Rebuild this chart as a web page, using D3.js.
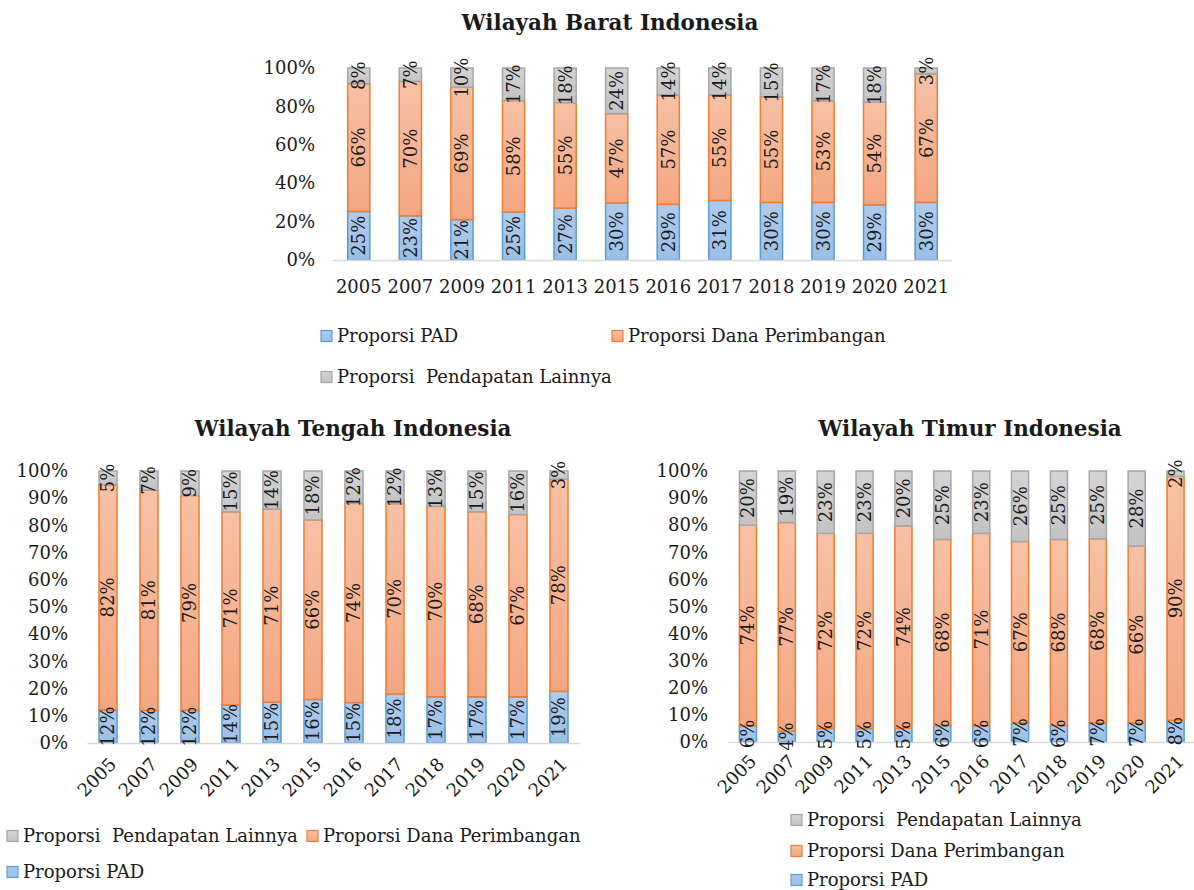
<!DOCTYPE html>
<html><head><meta charset="utf-8">
<script src="https://cdn.jsdelivr.net/npm/d3@7"></script>
<style>
body{margin:0;background:#fff}
svg{display:block;font-family:"DejaVu Serif",serif}
</style>
</head><body>
<svg id="chart" width="1194" height="890"></svg>
<script>
// ---------- DATA ----------
const years = ["2005","2007","2009","2011","2013","2015","2016","2017","2018","2019","2020","2021"];
const seriesKeys = ["pad","dana","lain"];
const seriesLabels = {pad:"Proporsi PAD", dana:"Proporsi Dana Perimbangan", lain:"Proporsi  Pendapatan Lainnya"};

const baratPAD  = [25,23,21,25,27,30,29,31,30,30,29,30];
const baratDana = [66,70,69,58,55,47,57,55,55,53,54,67];
const baratLain = [8,7,10,17,18,24,14,14,15,17,18,3];

const tengahPAD  = [12,12,12,14,15,16,15,18,17,17,17,19];
const tengahDana = [82,81,79,71,71,66,74,70,70,68,67,78];
const tengahLain = [5,7,9,15,14,18,12,12,13,15,16,3];

const timurPAD  = [6,4,5,5,5,6,6,7,6,7,7,8];
const timurDana = [74,77,72,72,74,68,71,67,68,68,66,90];
const timurLain = [20,19,23,23,20,25,23,26,25,25,28,2];

const ticksTop = [0,0.2,0.4,0.6,0.8,1];
const ticksBottom = [0,0.1,0.2,0.3,0.4,0.5,0.6,0.7,0.8,0.9,1];

// ---------- STYLE ----------
const colors = {
  pad:  {top:"#adcbec", bot:"#9bbfe6", stroke:"#5b9bd5"},
  dana: {top:"#f7c1a5", bot:"#f4a682", stroke:"#ed7d31"},
  lain: {top:"#d4d4d4", bot:"#c3c3c3", stroke:"#a5a5a5"}
};
const textColor = "#1a1a1a";

const svg = d3.select("#chart");
const defs = svg.append("defs");
seriesKeys.forEach(k => {
  const gr = defs.append("linearGradient").attr("id","grad-"+k)
    .attr("x1",0).attr("y1",0).attr("x2",0).attr("y2",1);
  gr.append("stop").attr("offset","0%").attr("stop-color",colors[k].top);
  gr.append("stop").attr("offset","100%").attr("stop-color",colors[k].bot);
});

function drawPanel(cfg){
  const g = svg.append("g");
  const rows = years.map((y,i)=>({year:y, pad:cfg.pad[i], dana:cfg.dana[i], lain:cfg.lain[i]}));
  const stacked = d3.stack().keys(seriesKeys).offset(d3.stackOffsetExpand)(rows);

  const x = d3.scaleBand().domain(years).range([cfg.x0, cfg.x1]).paddingInner(cfg.pad_).paddingOuter(cfg.pad_/2);
  const y = d3.scaleLinear().domain([0,1]).range([cfg.yBot, cfg.yTop]);

  // title
  g.append("text").attr("x",cfg.titleX).attr("y",cfg.titleY)
    .attr("text-anchor","middle").attr("font-weight","bold").attr("font-size",cfg.titleSize)
    .attr("fill",textColor).text(cfg.title);

  // y axis labels
  const yAxis = d3.axisLeft(y).tickValues(cfg.ticks).tickFormat(d3.format(".0%")).tickSize(0).tickPadding(0);
  const ya = g.append("g").attr("transform",`translate(${cfg.yLabelX},0)`).call(yAxis);
  ya.select(".domain").remove();
  ya.selectAll("text").attr("font-size",cfg.fontSize).attr("fill",textColor).attr("font-family","DejaVu Serif");

  // bars
  stacked.forEach(s => {
    const key = s.key;
    g.append("g").selectAll("rect").data(s).join("rect")
      .attr("x", d => x(d.data.year))
      .attr("width", x.bandwidth())
      .attr("y", d => y(d[1]))
      .attr("height", d => y(d[0]) - y(d[1]))
      .attr("fill", `url(#grad-${key})`)
      .attr("stroke", colors[key].stroke)
      .attr("stroke-width", 1.5);
  });

  // baseline
  g.append("line").attr("x1",cfg.x0).attr("x2",cfg.x1).attr("y1",cfg.yBot+0.5).attr("y2",cfg.yBot+0.5)
    .attr("stroke","#d9d9d9").attr("stroke-width",1.5);

  // data labels
  stacked.forEach(s => {
    const key = s.key;
    g.append("g").selectAll("text").data(s).join("text")
      .attr("transform", d => `translate(${x(d.data.year)+x.bandwidth()/2},${(y(d[0])+y(d[1]))/2}) rotate(-90)`)
      .attr("text-anchor","middle").attr("dy","0.36em")
      .attr("font-size",cfg.fontSize).attr("fill",textColor)
      .text(d => d.data[key] + "%");
  });

  // x axis labels
  const xg = g.append("g");
  if (cfg.rotate){
    xg.selectAll("text").data(years).join("text")
      .attr("transform", d => `translate(${x(d)+x.bandwidth()/2+cfg.rotDx},${cfg.yBot+cfg.rotDy}) rotate(-45)`)
      .attr("text-anchor","end").attr("dy","0.35em")
      .attr("font-size",cfg.fontSize).attr("fill",textColor)
      .text(d => d);
  } else {
    xg.selectAll("text").data(years).join("text")
      .attr("x", d => x(d)+x.bandwidth()/2).attr("y", cfg.yBot+cfg.xLabelDy)
      .attr("text-anchor","middle")
      .attr("font-size",cfg.fontSize).attr("fill",textColor)
      .text(d => d);
  }

  // legend
  const lg = g.append("g");
  cfg.legend.forEach(item => {
    lg.append("rect").attr("x",item.x).attr("y",item.y-5.5).attr("width",11).attr("height",11)
      .attr("fill",`url(#grad-${item.key})`).attr("stroke",colors[item.key].stroke).attr("stroke-width",1.2);
    lg.append("text").attr("x",item.x+16).attr("y",item.y).attr("dy","0.35em")
      .attr("font-size",cfg.fontSize).attr("fill",textColor).style("white-space","pre")
      .text(seriesLabels[item.key]);
  });
}

drawPanel({
  title:"Wilayah Barat Indonesia", titleX:610, titleY:30, titleSize:21.5,
  pad:baratPAD, dana:baratDana, lain:baratLain,
  x0:333, x1:952, yTop:68, yBot:260, pad_:0.57,
  ticks:ticksTop, yLabelX:315, fontSize:18,
  rotate:false, xLabelDy:33,
  legend:[{key:"pad",x:321,y:336},{key:"dana",x:612,y:336},{key:"lain",x:321,y:377}]
});

drawPanel({
  title:"Wilayah Tengah Indonesia", titleX:353, titleY:436, titleSize:21.5,
  pad:tengahPAD, dana:tengahDana, lain:tengahLain,
  x0:87.5, x1:579.5, yTop:471, yBot:743, pad_:0.56,
  ticks:ticksBottom, yLabelX:68, fontSize:18,
  rotate:true, rotDx:5, rotDy:18,
  legend:[{key:"lain",x:7,y:836},{key:"dana",x:307,y:836},{key:"pad",x:7,y:872}]
});

drawPanel({
  title:"Wilayah Timur Indonesia", titleX:970, titleY:436, titleSize:21.5,
  pad:timurPAD, dana:timurDana, lain:timurLain,
  x0:728.5, x1:1195, yTop:471, yBot:742, pad_:0.56,
  ticks:ticksBottom, yLabelX:708, fontSize:18,
  rotate:true, rotDx:5, rotDy:16,
  legend:[{key:"lain",x:791,y:820},{key:"dana",x:791,y:851},{key:"pad",x:791,y:880}]
});
</script>
</body></html>
